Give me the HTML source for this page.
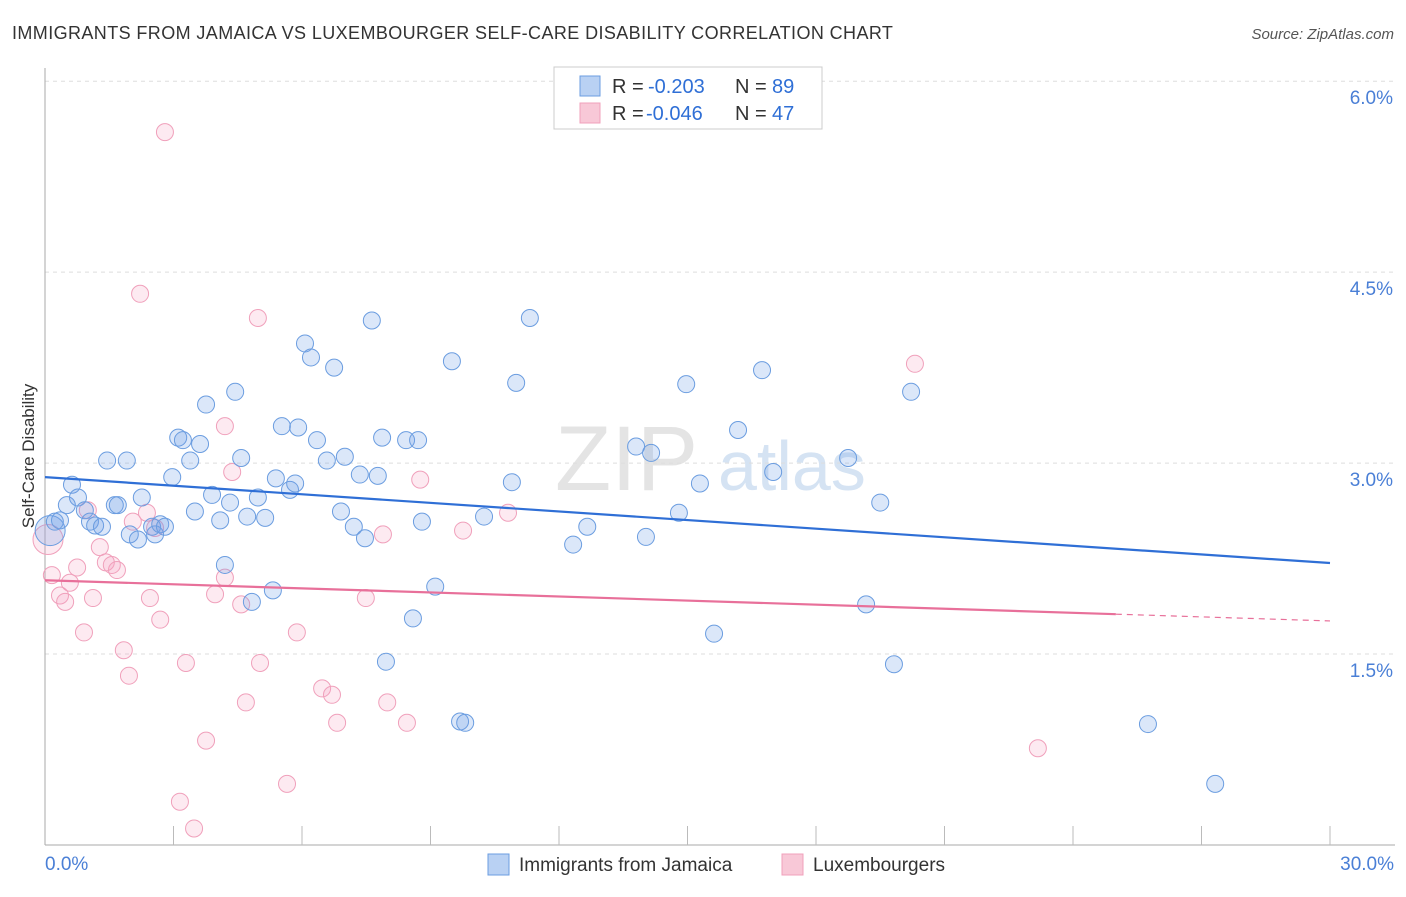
<!DOCTYPE html>
<html><head><meta charset="utf-8"><style>
body{margin:0;background:#fff;font-family:"Liberation Sans",sans-serif;}
svg text{font-family:"Liberation Sans",sans-serif;}
</style></head><body>
<svg id="chart" width="1406" height="892" xmlns="http://www.w3.org/2000/svg">
<text x="12" y="39" font-size="18" fill="#333" letter-spacing="0.4">IMMIGRANTS FROM JAMAICA VS LUXEMBOURGER SELF-CARE DISABILITY CORRELATION CHART</text>
<text x="1394" y="39" font-size="15" fill="#555" text-anchor="end" font-style="italic">Source: ZipAtlas.com</text>
<text x="555" y="490" font-size="92" fill="#e4e4e4" font-family="Liberation Serif">ZIP</text>
<text x="718" y="490" font-size="70" fill="#d5e3f3">atlas</text>
<text transform="translate(34,456) rotate(-90)" font-size="17" fill="#333" text-anchor="middle">Self-Care Disability</text>
<g id="grid"></g><g id="ticks"></g><g id="pinkpts"></g><g id="bluepts"></g><g id="lines"></g>
<g>
<rect x="554" y="67" width="268" height="62" fill="#fff" stroke="#ccc"/>
<rect x="580" y="76" width="20" height="20" fill="#b9d1f3" stroke="#6b9de0"/>
<rect x="580" y="103" width="20" height="20" fill="#f8c8d7" stroke="#f0a0bb"/>
<text x="612" y="93" font-size="20" fill="#333">R =</text>
<text x="648" y="93" font-size="20" fill="#2f6fd6">-0.203</text>
<text x="735" y="93" font-size="20" fill="#333">N =</text>
<text x="772" y="93" font-size="20" fill="#2f6fd6">89</text>
<text x="612" y="120" font-size="20" fill="#333">R =</text>
<text x="646" y="120" font-size="20" fill="#2f6fd6">-0.046</text>
<text x="735" y="120" font-size="20" fill="#333">N =</text>
<text x="772" y="120" font-size="20" fill="#2f6fd6">47</text>
</g>
<g>
<rect x="488" y="854" width="21" height="21" fill="#b9d1f3" stroke="#6b9de0"/>
<text x="519" y="871" font-size="19" fill="#333">Immigrants from Jamaica</text>
<rect x="782" y="854" width="21" height="21" fill="#f8c8d7" stroke="#f0a0bb"/>
<text x="813" y="871" font-size="19" fill="#333">Luxembourgers</text>
</g>
</svg>
<script>
const yTicks=[1.5,3.0,4.5,6.0];
const yTickLabels=["1.5%","3.0%","4.5%","6.0%"];
const xTickLabels=["0.0%","30.0%"];
const blueX=[0.12,0.23,0.35,0.51,0.63,0.77,0.93,1.05,1.17,1.33,1.45,1.63,1.70,1.91,1.98,2.17,2.26,2.50,2.57,2.69,2.80,2.97,3.11,3.22,3.39,3.50,3.62,3.76,3.90,4.09,4.20,4.32,4.44,4.58,4.72,4.83,4.97,5.14,5.32,5.39,5.53,5.72,5.84,5.91,6.07,6.21,6.35,6.58,6.75,6.91,7.00,7.21,7.35,7.47,7.63,7.77,7.87,7.96,8.43,8.59,8.71,8.80,9.11,9.50,9.69,9.81,10.25,10.90,11.00,11.32,12.33,12.66,13.80,14.03,14.15,14.80,14.97,15.29,15.62,16.18,16.74,17.00,18.75,19.17,19.50,19.82,20.22,25.75,27.32];
const blueY=[2.47,2.54,2.55,2.67,2.83,2.73,2.63,2.54,2.51,2.50,3.02,2.67,2.67,3.02,2.44,2.40,2.73,2.50,2.44,2.52,2.50,2.89,3.20,3.18,3.02,2.62,3.15,3.46,2.75,2.55,2.20,2.69,3.56,3.04,2.58,1.91,2.73,2.57,2.00,2.88,3.29,2.79,2.84,3.28,3.94,3.83,3.18,3.02,3.75,2.62,3.05,2.50,2.91,2.41,4.12,2.90,3.20,1.44,3.18,1.78,3.18,2.54,2.03,3.80,0.97,0.96,2.58,2.85,3.63,4.14,2.36,2.50,3.13,2.42,3.08,2.61,3.62,2.84,1.66,3.26,3.73,2.93,3.04,1.89,2.69,1.42,3.56,0.95,0.48];
const pinkX=[0.07,0.16,0.35,0.47,0.58,0.75,0.91,1.00,1.12,1.28,1.42,1.56,1.68,1.84,1.96,2.05,2.22,2.38,2.45,2.57,2.69,2.80,3.15,3.29,3.48,3.76,3.97,4.20,4.20,4.37,4.58,4.69,4.97,5.02,5.65,5.88,6.47,6.70,6.82,7.49,7.89,7.99,8.45,8.76,9.76,10.81,20.31,23.18];
const pinkY=[2.40,2.12,1.96,1.91,2.06,2.18,1.67,2.63,1.94,2.34,2.22,2.20,2.16,1.53,1.33,2.54,4.33,2.61,1.94,2.49,1.77,5.60,0.34,1.43,0.13,0.82,1.97,2.10,3.29,2.93,1.89,1.12,4.14,1.43,0.48,1.67,1.23,1.18,0.96,1.94,2.44,1.12,0.96,2.87,2.47,2.61,3.78,0.76];
const blueTrend=[2.89,2.215];
const pinkTrend=[2.08,1.76];
const pinkSolidEnd=25;
const NS="http://www.w3.org/2000/svg";
const X=v=>45+v*42.833, Y=v=>845-v*127.3;
function mk(tag,attrs,parent){const e=document.createElementNS(NS,tag);for(const k in attrs)e.setAttribute(k,attrs[k]);parent.appendChild(e);return e;}
const grid=document.getElementById('grid'),ticks=document.getElementById('ticks');
yTicks.forEach((t,i)=>{
 const l=mk('line',{x1:45,x2:1395,y1:Y(t),y2:Y(t),stroke:'#ddd','stroke-dasharray':'4,4'},grid);
 
 
 const tx=mk('text',{x:1393,y:Y(t)+23,'font-size':19,fill:'#4a7fd6','text-anchor':'end'},ticks);
 tx.textContent=yTickLabels[i];
 
 
});
const ya=mk('line',{x1:45,x2:45,y1:68,y2:845,stroke:'#aaa'},ticks);


const xa=mk('line',{x1:45,x2:1395,y1:845,y2:845,stroke:'#aaa'},ticks);


for(let i=1;i<=10;i++){const t=mk('line',{x1:X(i*3),x2:X(i*3),y1:826,y2:845,stroke:'#bbb'},ticks);
 
 }
[[0,'start',45],[30,'end',1394]].forEach((d,i)=>{const t=mk('text',{x:d[2],y:870,'font-size':19,fill:'#4a7fd6','text-anchor':d[1]},ticks);t.textContent=xTickLabels[i];
 
 });
function pts(xs,ys,g,fill,stroke,name){xs.forEach((x,i)=>{const r=i===0?15:8.5;
 const c=mk('circle',{cx:X(x),cy:Y(ys[i]),r:r,fill:fill,stroke:stroke,'stroke-width':1},g);
 
 });}
pts(pinkX,pinkY,document.getElementById('pinkpts'),'rgba(244,160,190,0.22)','#f0a0bb','luxembourger-point');
pts(blueX,blueY,document.getElementById('bluepts'),'rgba(110,160,230,0.25)','#6b9de0','jamaica-point');
const lg=document.getElementById('lines');
const bl=mk('line',{x1:X(0),y1:Y(blueTrend[0]),x2:X(30),y2:Y(blueTrend[1]),stroke:'#2f6fd6','stroke-width':2.2},lg);


const pe=pinkTrend[0]+(pinkTrend[1]-pinkTrend[0])*pinkSolidEnd/30;
const pl=mk('line',{x1:X(0),y1:Y(pinkTrend[0]),x2:X(pinkSolidEnd),y2:Y(pe),stroke:'#e8709a','stroke-width':2.2},lg);


const pd=mk('line',{x1:X(pinkSolidEnd),y1:Y(pe),x2:X(30),y2:Y(pinkTrend[1]),stroke:'#e8709a','stroke-width':1.2,'stroke-dasharray':'6,5'},lg);


</script>
</body></html>
